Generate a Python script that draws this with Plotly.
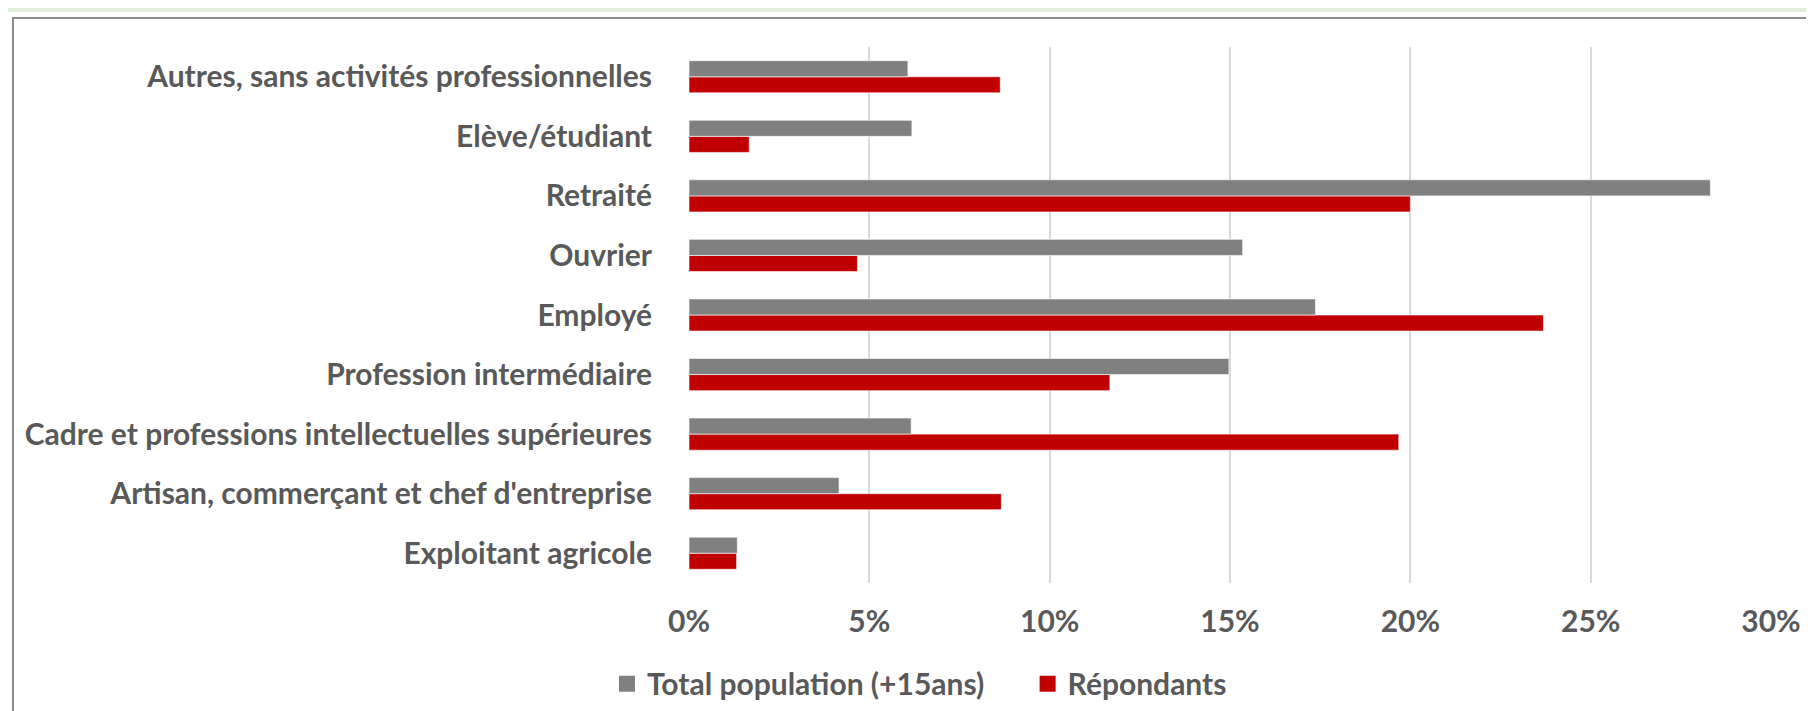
import plotly.graph_objects as go

# categories, bottom to top (plotly draws the first category at the bottom)
categories = [
    "Exploitant agricole",
    "Artisan, commerçant et chef d'entreprise",
    "Cadre et professions intellectuelles supérieures",
    "Profession intermédiaire",
    "Employé",
    "Ouvrier",
    "Retraité",
    "Elève/étudiant",
    "Autres, sans activités professionnelles",
]
total_population = [0.0134, 0.0416, 0.0616, 0.1497, 0.1737, 0.1535, 0.2832, 0.0618, 0.0607]
repondants = [0.0132, 0.0866, 0.1968, 0.1167, 0.2369, 0.0467, 0.2000, 0.0167, 0.0863]
x_ticks = [0, 0.05, 0.10, 0.15, 0.20, 0.25, 0.30]

FONT = "Lato, 'Open Sans', sans-serif"
TEXT_COLOR = "#595959"
FONT_SIZE = 30
GREY = "#808080"
RED = "#C00000"

fig = go.Figure()

# red trace first so that it sits below the grey one inside each group
fig.add_trace(go.Bar(
    y=categories,
    x=repondants,
    orientation="h",
    marker=dict(color=RED, line=dict(color="rgba(255,255,255,0.6)", width=1)),
    showlegend=False,
))
fig.add_trace(go.Bar(
    y=categories,
    x=total_population,
    orientation="h",
    marker=dict(color=GREY, line=dict(color="rgba(255,255,255,0.6)", width=1)),
    showlegend=False,
))

# legend entries with bigger square keys, like the Excel legend
for name, color, rank in [("<b>Total population (+15ans)</b>" + "&nbsp;" * 5, GREY, 1),
                          ("<b>Répondants</b>", RED, 2)]:
    fig.add_trace(go.Scatter(
        x=[None], y=[None], mode="markers", name=name,
        marker=dict(symbol="square", size=17, color=color),
        legendrank=rank, hoverinfo="skip",
    ))

fig.update_layout(
    width=1814,
    height=711,
    barmode="group",
    bargap=0.46,
    bargroupgap=0,
    plot_bgcolor="white",
    paper_bgcolor="white",
    margin=dict(l=681, r=51, t=39, b=136, autoexpand=False),
    font=dict(family=FONT, size=FONT_SIZE, color=TEXT_COLOR),
    legend=dict(
        orientation="h",
        x=0.213,
        xanchor="center",
        y=-0.188,
        yanchor="middle",
        font=dict(family=FONT, size=FONT_SIZE, color=TEXT_COLOR),
        itemwidth=30,
        traceorder="normal",
    ),
    showlegend=True,
)

fig.update_xaxes(
    range=[0, 0.30],
    tickvals=x_ticks,
    tickformat=".0%",
    showgrid=True,
    gridcolor="#d9d9d9",
    gridwidth=2,
    zeroline=False,
    showline=False,
    ticks="",
    ticklabelstandoff=18,
    tickfont=dict(family=FONT, size=FONT_SIZE, color=TEXT_COLOR, weight="bold"),
)
fig.update_yaxes(
    categoryorder="array",
    categoryarray=categories,
    showgrid=False,
    zeroline=False,
    showline=False,
    ticks="",
    ticklabelstandoff=36,
    tickfont=dict(family=FONT, size=FONT_SIZE, color=TEXT_COLOR, weight="bold"),
)

# light green band above the chart frame and the grey frame itself
fig.add_shape(type="rect", xref="paper", yref="paper",
              x0=-0.7, x1=1.1, y0=1.0 + 35 / 536, y1=1.2,
              fillcolor="#E2EFDA", line=dict(width=0), layer="below")
fig.add_shape(type="rect", xref="paper", yref="paper",
              x0=-(681 - 5) / 1082, x1=1.1, y0=-0.4, y1=1.0 + 29 / 536,
              fillcolor="rgba(0,0,0,0)", line=dict(color="#8c8c8c", width=2))

fig.write_html("out.html")
